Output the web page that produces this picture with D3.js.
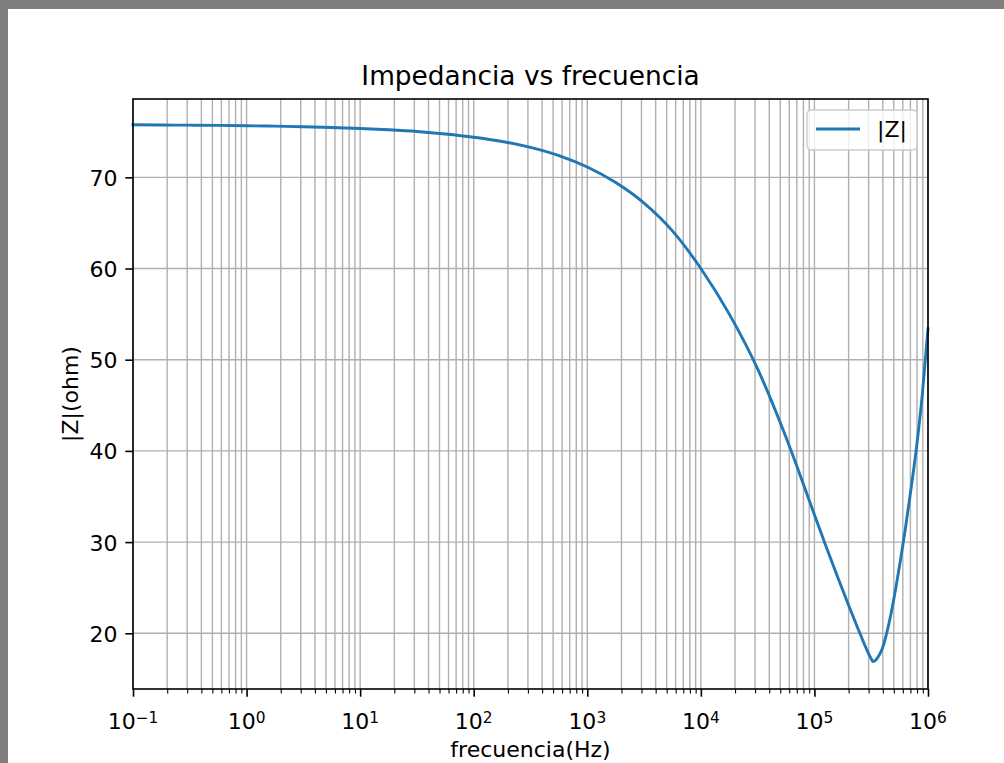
<!DOCTYPE html>
<html>
<head>
<meta charset="utf-8">
<script src="https://cdn.jsdelivr.net/npm/d3@7"></script>
<style>
  html, body { margin: 0; padding: 0; background: #7f7f7f; }
  svg { display: block; }
  text { font-family: "DejaVu Sans", sans-serif; fill: #000; }
</style>
</head>
<body>
<svg id="chart" width="1004" height="763"></svg>
<script>
// Frequency sweep (Hz) and impedance magnitude (ohm)
const freqHz = [0.1, 0.178, 0.316, 0.562, 1, 1.78, 3.16, 5.62, 10, 17.8, 31.6, 56.2,
  100, 178, 316, 562, 1000, 1780, 3160, 5620, 10000, 17800, 31600, 56200,
  100000, 125900, 158500, 199500, 239900, 269200, 295100, 316200, 328100,
  346700, 371500, 398100, 436500, 478600, 524800, 575400, 631000, 707900,
  794300, 891300, 1000000];
const impedance = [75.76, 75.74, 75.72, 75.70, 75.66, 75.61, 75.55, 75.47, 75.36,
  75.21, 75.02, 74.75, 74.4, 73.93, 73.28, 72.38, 71.13, 69.43, 67.18, 64.13, 60.0,
  55.0, 49.0, 41.5, 33.0, 29.6, 26.3, 23.1, 20.6, 19.1, 17.95, 17.2, 16.9,
  17.05, 17.6, 18.4, 20.2, 22.5, 25.2, 28.2, 31.4, 35.8, 40.5, 46.2, 53.4];

// Axis ticks
const xTickExponents = [-1, 0, 1, 2, 3, 4, 5, 6];
const yTicks = [20, 30, 40, 50, 60, 70];
const yDomain = [13.89, 78.59];

const titleText = "Impedancia vs frecuencia";
const xLabelText = "frecuencia(Hz)";
const yLabelText = "|Z|(ohm)";
const legendLabel = "|Z|";

const svg = d3.select("#chart");

// white figure area on the grey window
svg.append("rect").attr("x", 8).attr("y", 9).attr("width", 996).attr("height", 754)
  .attr("fill", "#ffffff");

const plotLeft = 133, plotRight = 928, plotTop = 99, plotBottom = 689;
const x = d3.scaleLog().domain([0.1, 1e6]).range([plotLeft, plotRight]);
const y = d3.scaleLinear().domain(yDomain).range([plotBottom, plotTop]);

const majors = xTickExponents.map(e => Math.pow(10, e));
const allX = x.ticks();
const minors = allX.filter(v => !majors.some(m => Math.abs(m - v) / m < 1e-9));

// grid
const grid = svg.append("g").attr("stroke", "#b0b0b0").attr("stroke-width", 1.4);
grid.selectAll("line.gx").data(allX).join("line")
  .attr("x1", d => x(d)).attr("x2", d => x(d)).attr("y1", plotTop).attr("y2", plotBottom);
grid.selectAll("line.gy").data(yTicks).join("line")
  .attr("y1", d => y(d)).attr("y2", d => y(d)).attr("x1", plotLeft).attr("x2", plotRight);

// curve
const line = d3.line().x((d, i) => x(freqHz[i])).y(d => y(d)).curve(d3.curveMonotoneX);
svg.append("path").datum(impedance).attr("d", line)
  .attr("fill", "none").attr("stroke", "#1f77b4").attr("stroke-width", 2.9)
  .attr("stroke-linecap", "square");

// x axis major
const gxMajor = svg.append("g").attr("transform", `translate(0,${plotBottom})`)
  .call(d3.axisBottom(x).tickValues(majors).tickSize(7.7).tickFormat(""));
gxMajor.select(".domain").remove();
gxMajor.selectAll(".tick line").attr("stroke", "#000").attr("stroke-width", 1.6);

const gxMinor = svg.append("g").attr("transform", `translate(0,${plotBottom})`)
  .call(d3.axisBottom(x).tickValues(minors).tickSize(4.4).tickFormat(""));
gxMinor.select(".domain").remove();
gxMinor.selectAll(".tick line").attr("stroke", "#000").attr("stroke-width", 1.1);

// x tick labels with exponents
xTickExponents.forEach((e, i) => {
  const t = svg.append("text").attr("x", x(majors[i])).attr("y", 729)
    .attr("text-anchor", "middle").attr("font-size", 22);
  t.append("tspan").text("10");
  t.append("tspan").attr("dy", -6).attr("font-size", 15.4)
    .text(e < 0 ? "\u2212" + Math.abs(e) : String(e));
});

// y axis
const gy = svg.append("g").attr("transform", `translate(${plotLeft},0)`)
  .call(d3.axisLeft(y).tickValues(yTicks).tickSize(7.7).tickPadding(7.7));
gy.select(".domain").remove();
gy.selectAll(".tick line").attr("stroke", "#000").attr("stroke-width", 1.6);
gy.selectAll(".tick text").attr("font-size", 22).attr("fill", "#000")
  .attr("font-family", "DejaVu Sans").attr("dy", "0.36em");

// spines
svg.append("rect").attr("x", plotLeft).attr("y", plotTop)
  .attr("width", plotRight - plotLeft).attr("height", plotBottom - plotTop)
  .attr("fill", "none").attr("stroke", "#000").attr("stroke-width", 1.6);

// title and labels
svg.append("text").attr("x", (plotLeft + plotRight) / 2).attr("y", 85)
  .attr("text-anchor", "middle").attr("font-size", 26.4).text(titleText);
svg.append("text").attr("x", (plotLeft + plotRight) / 2).attr("y", 757)
  .attr("text-anchor", "middle").attr("font-size", 22).text(xLabelText);
svg.append("text").attr("transform", `translate(78,${(plotTop + plotBottom) / 2}) rotate(-90)`)
  .attr("text-anchor", "middle").attr("font-size", 22).text(yLabelText);

// legend
const lg = svg.append("g");
lg.append("rect").attr("x", 807).attr("y", 110).attr("width", 110).attr("height", 40)
  .attr("rx", 4.4).attr("fill", "#ffffff").attr("fill-opacity", 0.8)
  .attr("stroke", "#cccccc").attr("stroke-width", 1.4);
lg.append("line").attr("x1", 816).attr("x2", 860).attr("y1", 129).attr("y2", 129)
  .attr("stroke", "#1f77b4").attr("stroke-width", 2.9);
lg.append("text").attr("x", 877).attr("y", 137).attr("font-size", 22).text(legendLabel);
</script>
</body>
</html>
